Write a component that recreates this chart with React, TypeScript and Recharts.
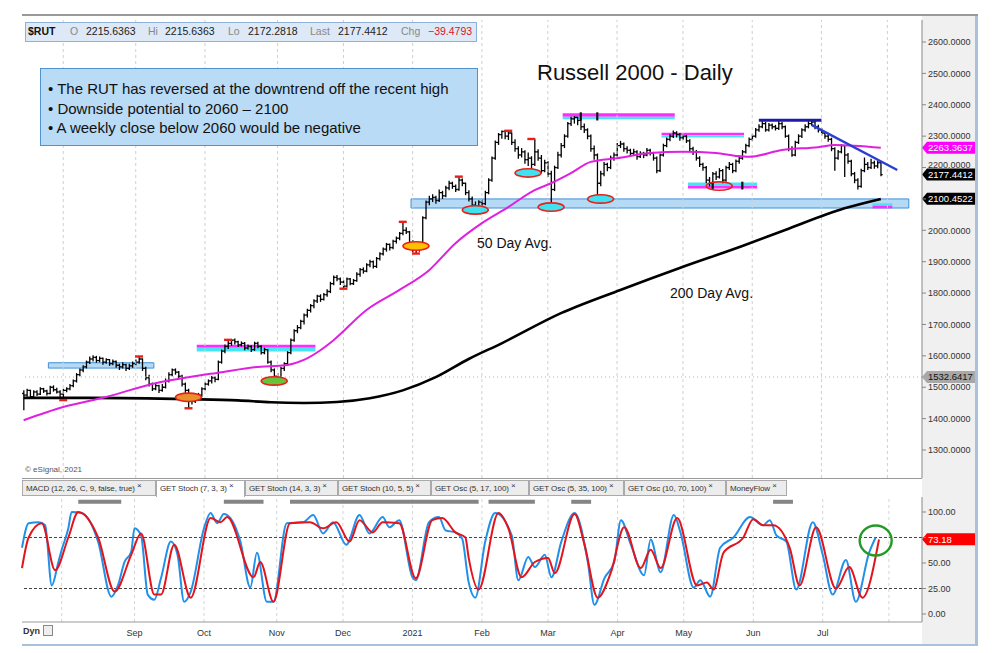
import React from 'react';
import { ComposedChart, Bar, Line, XAxis, YAxis, ReferenceLine, ReferenceArea, ReferenceDot } from 'recharts';

// daily bars [open, high, low, close], mid Jul 2020 -> 27 Jul 2021
const priceBars: number[][] = [
  [1480,1490,1427,1475],[1475,1495,1470,1490],[1490,1492,1465,1470],[1470,1490,1466,1485],[1485,1490,1472,1478],
  [1478,1500,1475,1495],[1495,1498,1482,1488],[1488,1492,1474,1480],[1480,1505,1478,1500],[1500,1506,1486,1492],
  [1492,1498,1480,1485],[1485,1490,1468,1478],[1478,1495,1460,1490],[1490,1500,1484,1495],[1495,1510,1490,1505],
  [1505,1525,1500,1520],[1520,1545,1515,1540],[1540,1560,1535,1555],[1555,1570,1548,1565],[1565,1585,1560,1580],
  [1580,1598,1574,1590],[1590,1602,1582,1595],[1595,1600,1578,1585],[1585,1598,1580,1592],[1592,1595,1572,1580],
  [1580,1592,1575,1588],[1588,1590,1568,1575],[1575,1588,1570,1582],[1582,1585,1562,1570],[1570,1575,1555,1565],
  [1565,1580,1560,1572],[1572,1575,1552,1560],[1560,1575,1555,1568],[1568,1582,1562,1575],[1575,1588,1570,1580],
  [1580,1598,1575,1590],[1590,1592,1552,1560],[1560,1565,1522,1530],[1530,1540,1502,1510],[1510,1515,1488,1495],
  [1495,1512,1490,1505],[1505,1508,1482,1490],[1490,1510,1486,1500],[1500,1528,1496,1520],[1520,1548,1515,1540],
  [1540,1560,1535,1555],[1555,1560,1540,1548],[1548,1552,1528,1535],[1535,1540,1502,1510],[1510,1515,1482,1490],
  [1490,1495,1433,1470],[1470,1476,1445,1455],[1455,1472,1450,1465],[1465,1482,1460,1475],[1475,1500,1470,1495],
  [1495,1515,1490,1510],[1510,1525,1505,1520],[1520,1536,1512,1530],[1530,1534,1516,1525],[1525,1585,1522,1580],
  [1580,1620,1575,1615],[1615,1636,1608,1630],[1630,1650,1622,1640],[1640,1652,1632,1650],[1650,1655,1636,1645],
  [1645,1648,1628,1635],[1635,1646,1630,1640],[1640,1644,1618,1625],[1625,1636,1620,1630],[1630,1634,1612,1620],
  [1620,1645,1616,1640],[1640,1645,1624,1630],[1630,1634,1604,1610],[1610,1626,1605,1620],[1620,1622,1575,1580],
  [1580,1585,1548,1555],[1555,1560,1525,1535],[1535,1545,1520,1530],[1530,1565,1528,1560],[1560,1580,1552,1575],
  [1575,1615,1570,1610],[1610,1655,1605,1650],[1650,1685,1645,1680],[1680,1698,1672,1690],[1690,1715,1685,1710],
  [1710,1735,1700,1730],[1730,1750,1722,1745],[1745,1765,1738,1760],[1760,1780,1752,1775],[1775,1795,1768,1790],
  [1790,1796,1772,1780],[1780,1800,1776,1795],[1795,1812,1788,1805],[1805,1836,1800,1830],[1830,1856,1825,1850],
  [1850,1858,1838,1845],[1845,1850,1826,1835],[1835,1840,1815,1822],[1822,1850,1818,1845],[1845,1848,1825,1830],
  [1830,1845,1826,1840],[1840,1866,1836,1860],[1860,1880,1852,1875],[1875,1882,1862,1870],[1870,1895,1866,1890],
  [1890,1906,1882,1900],[1900,1904,1878,1885],[1885,1915,1880,1910],[1910,1930,1904,1925],[1925,1945,1920,1940],
  [1940,1960,1932,1955],[1955,1958,1936,1945],[1945,1970,1940,1965],[1965,1980,1958,1975],[1975,1995,1968,1990],
  [1990,2026,1984,2000],[2000,2010,1988,1995],[1995,1998,1955,1960],[1960,1968,1930,1940],[1940,1960,1927,1950],
  [1950,1958,1932,1945],[1945,2045,1942,2040],[2040,2095,2035,2090],[2090,2110,2080,2100],[2100,2115,2090,2105],
  [2105,2110,2085,2095],[2095,2130,2090,2120],[2120,2126,2100,2110],[2110,2142,2105,2135],[2135,2158,2128,2150],
  [2150,2155,2132,2140],[2140,2146,2122,2130],[2130,2170,2126,2160],[2160,2165,2140,2150],[2150,2152,2112,2120],
  [2120,2128,2092,2100],[2100,2108,2072,2080],[2080,2092,2062,2070],[2070,2096,2066,2090],[2090,2098,2076,2085],
  [2085,2126,2080,2120],[2120,2166,2115,2160],[2160,2235,2155,2230],[2230,2286,2225,2280],[2280,2310,2272,2305],
  [2305,2318,2292,2315],[2315,2320,2290,2300],[2300,2316,2288,2310],[2310,2312,2272,2280],[2280,2290,2250,2260],
  [2260,2268,2228,2240],[2240,2262,2232,2250],[2250,2255,2212,2225],[2225,2248,2205,2230],[2230,2236,2182,2210],
  [2210,2290,2205,2250],[2250,2258,2222,2230],[2230,2240,2182,2190],[2190,2225,2185,2215],[2215,2220,2170,2180],
  [2180,2190,2074,2130],[2130,2206,2125,2200],[2200,2250,2195,2240],[2240,2278,2232,2270],[2270,2306,2262,2300],
  [2300,2345,2295,2340],[2340,2362,2332,2355],[2355,2364,2340,2360],[2360,2362,2335,2350],[2350,2355,2320,2330],
  [2330,2340,2310,2320],[2320,2325,2290,2300],[2300,2305,2250,2260],[2260,2270,2225,2240],[2240,2245,2103,2150],
  [2150,2190,2140,2180],[2180,2218,2172,2210],[2210,2215,2188,2200],[2200,2238,2195,2230],[2230,2248,2222,2240],
  [2240,2278,2235,2270],[2270,2285,2262,2275],[2275,2280,2250,2260],[2260,2268,2245,2255],[2255,2260,2236,2245],
  [2245,2260,2240,2250],[2250,2255,2225,2235],[2235,2252,2230,2245],[2245,2250,2230,2240],[2240,2262,2236,2255],
  [2255,2260,2238,2245],[2245,2250,2222,2230],[2230,2235,2182,2190],[2190,2245,2186,2240],[2240,2276,2235,2270],
  [2270,2296,2265,2290],[2290,2306,2284,2300],[2300,2318,2294,2310],[2310,2316,2296,2305],[2305,2310,2285,2295],
  [2295,2306,2288,2300],[2300,2304,2278,2285],[2285,2290,2252,2260],[2260,2266,2240,2250],[2250,2256,2222,2230],
  [2230,2236,2202,2210],[2210,2215,2190,2200],[2200,2205,2150,2160],[2160,2170,2140,2150],[2150,2186,2145,2180],
  [2180,2188,2160,2170],[2170,2198,2165,2190],[2190,2195,2150,2160],[2160,2206,2155,2200],[2200,2218,2192,2210],
  [2210,2215,2182,2190],[2190,2226,2185,2220],[2220,2236,2212,2230],[2230,2256,2225,2250],[2250,2276,2245,2270],
  [2270,2296,2265,2290],[2290,2306,2284,2300],[2300,2326,2295,2320],[2320,2338,2314,2330],[2330,2350,2325,2340],
  [2340,2346,2314,2320],[2320,2342,2315,2335],[2335,2340,2322,2330],[2330,2336,2318,2325],[2325,2348,2320,2340],
  [2340,2345,2322,2330],[2330,2334,2295,2300],[2300,2305,2252,2260],[2260,2268,2234,2240],[2240,2285,2236,2280],
  [2280,2306,2275,2300],[2300,2325,2294,2320],[2320,2338,2314,2330],[2330,2350,2325,2340],[2340,2352,2332,2345],
  [2345,2348,2322,2330],[2330,2336,2312,2320],[2320,2326,2302,2310],[2310,2315,2292,2300],[2300,2306,2282,2290],
  [2290,2295,2252,2260],[2260,2265,2190,2230],[2230,2256,2225,2250],[2250,2275,2245,2270],[2270,2272,2170,2240],
  [2240,2246,2212,2220],[2220,2225,2172,2180],[2180,2186,2150,2160],[2160,2166,2130,2140],[2140,2196,2136,2190],
  [2190,2232,2185,2210],[2210,2218,2192,2200],[2200,2228,2195,2215],[2215,2222,2196,2205],[2205,2222,2198,2215],
  [2215.64,2215.64,2172.28,2177.44],
];

// [bar index, value]
const ma50Points: [number, number][] = [
  [0,1395],[12,1437],[25,1469],[40,1513],[50,1532],[60,1548],[70,1564],[80,1571],[85,1587],[90,1618],
  [94,1650],[104,1746],[114,1810],[123,1873],[131,1959],[139,2023],[147,2074],[155,2128],[160,2150],
  [166,2182],[172,2218],[180,2230],[190,2246],[200,2250],[210,2246],[216,2237],[220,2234],[230,2256],
  [241,2265],[246,2272],[260,2263],
];
const ma200Points: [number, number][] = [
  [0,1466],[20,1466],[50,1462],[65,1458],[75,1452],[85,1450],[95,1453],[105,1465],[115,1490],[125,1532],
  [135,1590],[145,1640],[163,1736],[181,1810],[199,1880],[218,1950],[231,2001],[249,2070],[260,2100],
];

const stochK: [number, number][] = [
  [0,65],[2,89],[5,90],[7,87],[9,28],[11,51],[12,63],[14,84],[15,100],[18,99],[23,71],[27,17],[29,28],
  [31,51],[33,61],[34,84],[36,77],[38,19],[40,14],[42,35],[45,71],[47,58],[49,12],[51,22],[55,84],[57,99],
  [59,89],[61,98],[62,97],[66,71],[69,26],[71,60],[74,12],[76,12],[80,89],[85,90],[88,97],[91,79],[94,90],
  [98,68],[102,97],[105,79],[109,95],[111,85],[114,92],[118,36],[119,33],[123,90],[126,95],[128,82],[131,80],
  [133,74],[135,31],[137,16],[140,71],[143,99],[148,77],[150,33],[153,56],[155,46],[158,58],[160,36],[163,71],
  [167,99],[171,51],[173,9],[176,35],[179,51],[181,92],[184,68],[188,38],[190,73],[193,41],[197,97],[199,80],
  [203,26],[205,33],[208,17],[211,65],[215,75],[220,95],[224,87],[226,92],[228,77],[231,71],[234,24],[239,90],
  [242,58],[245,19],[249,53],[252,12],[256,60],[258,75],
];
const stochD: [number, number][] = [
  [0,45],[2,75],[6,89],[10,43],[14,75],[17,100],[23,75],[28,22],[33,58],[36,79],[40,19],[42,19],[46,68],
  [51,16],[57,94],[60,90],[62,95],[70,36],[72,51],[76,12],[81,89],[87,90],[91,84],[95,90],[99,71],[102,92],
  [106,80],[109,90],[114,89],[119,35],[124,92],[127,94],[131,80],[134,75],[135,55],[138,24],[144,99],[147,84],
  [151,36],[155,51],[159,55],[161,40],[167,98],[170,68],[174,16],[178,41],[182,85],[187,45],[190,63],[193,45],
  [198,94],[204,28],[207,31],[209,24],[212,60],[218,75],[221,93],[224,87],[227,87],[232,65],[235,28],[240,85],
  [246,25],[250,46],[254,16],[259,73],
];

const monthTicks = [12, 34, 55, 77, 97, 118, 139, 159, 180, 200, 221, 242, 262];
const monthLabels = ['', 'Sep', 'Oct', 'Nov', 'Dec', '2021', 'Feb', 'Mar', 'Apr', 'May', 'Jun', 'Jul', ''];
const priceTicks = [1300, 1400, 1500, 1600, 1700, 1800, 1900, 2000, 2100, 2200, 2300, 2400, 2500, 2600];
const stochTicks = [0, 25, 50, 75, 100];
const tabNames = ['MACD (12, 26, C, 9, false, true)', 'GET Stoch (7, 3, 3)', 'GET Stoch (14, 3, 3)', 'GET Stoch (10, 5, 5)',
  'GET Osc (5, 17, 100)', 'GET Osc (5, 35, 100)', 'GET Osc (10, 70, 100)', 'MoneyFlow'];
const tabWidths = [134, 89, 93, 93, 98, 95, 102, 61];

// last-value tags on the axes
const lastPrice = 2177.4412;
const ma50Last = 2263.3637;
const ma200Last = 2100.4522;
const refPrice = 1532.6417;
const stochLast = 73.18;

// drawn annotations, in bar index / price units
const blueBands = [{ x1: 8, x2: 39, y1: 1561, y2: 1578 }, { x1: 118, x2: 268, y1: 2071, y2: 2100 }];
const magentaCyanBands = [
  { x1: 53, x2: 88, top: [1626, 1635], bottom: [1614, 1626], magentaOnTop: true },
  { x1: 164, x2: 197, top: [2362, 2373], bottom: [2354, 2362], magentaOnTop: true },
  { x1: 194, x2: 218, top: [2303, 2311], bottom: [2296, 2303], magentaOnTop: true },
  { x1: 202, x2: 222, top: [2141, 2152], bottom: [2133, 2141], magentaOnTop: false },
  { x1: 258, x2: 263, top: [2078, 2086], bottom: [2070, 2078], magentaOnTop: false },
];
const ellipses = [
  { x: 50, y: 1468, fill: '#e8902a' }, { x: 76, y: 1520, fill: '#66c43a' }, { x: 119, y: 1950, fill: '#ffc000' },
  { x: 137, y: 2065, fill: '#3fe2f0' }, { x: 153, y: 2183, fill: '#3fe2f0' }, { x: 160, y: 2074, fill: '#3fe2f0' },
  { x: 175, y: 2100, fill: '#3fe2f0' }, { x: 211, y: 2141, fill: 'none' },
];
const pivotMarks = [
  { x: 12, y: 1459 }, { x: 35, y: 1598 }, { x: 50, y: 1433 }, { x: 62, y: 1651 }, { x: 97, y: 1814 },
  { x: 115, y: 2027 }, { x: 119, y: 1926 }, { x: 132, y: 2171 }, { x: 147, y: 2317 }, { x: 154, y: 2291 },
];
const bandTicks = [{ x: 169, y1: 2350, y2: 2376 }, { x: 174, y1: 2350, y2: 2376 }, { x: 209, y1: 2130, y2: 2155 }, { x: 218, y1: 2130, y2: 2155 }];
const strongZones = [[17, 30], [61, 73], [81, 138], [141, 155], [166, 172], [227, 233]];

const SLOTS = 273;
const ma50Map = new Map(ma50Points);
const ma200Map = new Map(ma200Points);
const kMap = new Map(stochK);
const dMap = new Map(stochD);

const priceRows = Array.from({ length: SLOTS }, (_, i) => {
  const b = priceBars[i];
  return {
    i,
    o: b ? b[0] : null, h: b ? b[1] : null, l: b ? b[2] : null, c: b ? b[3] : null,
    hl: b ? [b[2], b[1]] : null,
    ma50: ma50Map.has(i) ? ma50Map.get(i) : null,
    ma200: ma200Map.has(i) ? ma200Map.get(i) : null,
  };
});
const stochRows = Array.from({ length: SLOTS }, (_, i) => ({
  i,
  k: kMap.has(i) ? kMap.get(i) : null,
  d: dMap.has(i) ? dMap.get(i) : null,
}));

function OhlcBar(props: any) {
  const { x, y, width, height, payload } = props;
  if (!payload || payload.h == null) return null;
  const cx = x + width / 2;
  const top = Math.min(y, y + height);
  const bottom = Math.max(y, y + height);
  const span = payload.h - payload.l || 1;
  const toY = (v: number) => top + ((payload.h - v) / span) * (bottom - top);
  return (
    <g stroke="#000" strokeWidth={1.3}>
      <line x1={cx} x2={cx} y1={top} y2={bottom} />
      <line x1={cx - 1.7} x2={cx} y1={toY(payload.o)} y2={toY(payload.o)} />
      <line x1={cx} x2={cx + 1.7} y1={toY(payload.c)} y2={toY(payload.c)} />
    </g>
  );
}

function AxisTag(props: any) {
  const { viewBox, text, bg, color } = props;
  if (!viewBox) return null;
  const x = viewBox.x + viewBox.width;
  const y = viewBox.y;
  return (
    <g>
      <polygon points={`${x},${y} ${x + 5},${y - 6} ${x + 53},${y - 6} ${x + 53},${y + 6} ${x + 5},${y + 6}`} fill={bg} />
      <text x={x + 6} y={y + 3.5} fontSize={9.5} fill={color} fontFamily="Arial, sans-serif">{text}</text>
    </g>
  );
}

// axis labels; the ones sitting under a last-value tag are hidden like in eSignal,
// the one just above a tag is nudged up a little
function makeTick(digits: number, hidden: number[], nudged: number[]) {
  return function Tick(props: any) {
    const { x, y, payload } = props;
    const v = payload.value as number;
    if (hidden.includes(v)) return null;
    const dy = nudged.includes(v) ? -3 : 0;
    return (
      <text x={x} y={y + dy} dy={3.2} fontSize={9} fill="#333" fontFamily="Arial, sans-serif" textAnchor="start">
        {v.toFixed(digits)}
      </text>
    );
  };
}
const PriceTick = makeTick(4, [2100], [2200]);
const StochTick = makeTick(2, [75], []);

const tickStyle = { fontSize: 9, fill: '#333', fontFamily: 'Arial, sans-serif' };

export default function App() {
  return (
    <div style={{ position: 'absolute', left: 0, top: 0, width: 999, height: 653, background: '#fff', fontFamily: 'Arial, sans-serif', overflow: 'hidden' }}>
      {/* frame */}
      <div style={{ position: 'absolute', left: 922, top: 16, width: 53, height: 629, background: '#f0f0f0' }} />
      <div style={{ position: 'absolute', left: 22, top: 14, width: 956, height: 2, background: '#9a9a9a' }} />
      <div style={{ position: 'absolute', left: 975, top: 16, width: 3, height: 630, background: '#a8c2dc' }} />
      <div style={{ position: 'absolute', left: 22, top: 644, width: 956, height: 2, background: '#a8c2dc' }} />
      <div style={{ position: 'absolute', left: 22, top: 478, width: 900, height: 1, background: '#999' }} />

      <div style={{ position: 'absolute', left: 0, top: 20 }}>
        <ComposedChart width={999} height={458} data={priceRows} margin={{ top: 0, right: 22, bottom: 0, left: 22 }}>
          <XAxis dataKey="i" hide />
          <YAxis orientation="right" width={55} domain={[1210.8, 2670.1]} ticks={priceTicks} allowDataOverflow
            tick={<PriceTick />} tickSize={4} tickMargin={2}
            axisLine={{ stroke: '#888' }} tickLine={{ stroke: '#888' }} />
          {monthTicks.map((m) => (
            <ReferenceLine key={`g${m}`} x={m} stroke="#cfcfcf" strokeDasharray="3 3" />
          ))}
          <ReferenceLine y={refPrice} stroke="#b0b0b0" strokeDasharray="1 3" />
          {blueBands.map((b, n) => (
            <ReferenceArea key={`bb${n}`} x1={b.x1} x2={b.x2} y1={b.y1} y2={b.y2} fill="#b5daf6" fillOpacity={1} stroke="#3f8fd4" strokeWidth={1} />
          ))}
          {magentaCyanBands.map((b, n) => (
            <ReferenceArea key={`mt${n}`} x1={b.x1} x2={b.x2} y1={b.top[0]} y2={b.top[1]} fill={b.magentaOnTop ? '#ff2cff' : '#48e4f4'} fillOpacity={1} stroke="none" />
          ))}
          {magentaCyanBands.map((b, n) => (
            <ReferenceArea key={`mb${n}`} x1={b.x1} x2={b.x2} y1={b.bottom[0]} y2={b.bottom[1]} fill={b.magentaOnTop ? '#48e4f4' : '#ff2cff'} fillOpacity={1} stroke="none" />
          ))}
          {ellipses.map((e, n) => (
            <ReferenceDot key={`el${n}`} x={e.x} y={e.y} r={4}
              shape={(p: any) => <ellipse cx={p.cx} cy={p.cy} rx={13} ry={4.2} fill={e.fill} stroke="#e8201c" strokeWidth={1.6} />} />
          ))}
          <Bar dataKey="hl" isAnimationActive={false} shape={<OhlcBar />} />
          <Line dataKey="ma200" type="monotone" stroke="#000" strokeWidth={2.6} dot={false} connectNulls isAnimationActive={false} />
          <Line dataKey="ma50" type="monotone" stroke="#e020e0" strokeWidth={2} dot={false} connectNulls isAnimationActive={false} />
          {bandTicks.map((t, n) => (
            <ReferenceLine key={`bt${n}`} segment={[{ x: t.x, y: t.y1 }, { x: t.x, y: t.y2 }]} stroke="#111" strokeWidth={2.2} />
          ))}
          {pivotMarks.map((p, n) => (
            <ReferenceDot key={`pv${n}`} x={p.x} y={p.y} r={3}
              shape={(q: any) => <rect x={q.cx - 4} y={q.cy - 1.2} width={8} height={2.4} fill="#e8201c" />} />
          ))}
          <ReferenceLine segment={[{ x: 223, y: 2351 }, { x: 242, y: 2351 }]} stroke="#1c1caa" strokeWidth={3} />
          <ReferenceLine segment={[{ x: 239, y: 2336 }, { x: 265, y: 2192 }]} stroke="#2a3fd4" strokeWidth={2.4} />
          <ReferenceLine y={refPrice} stroke="none" label={<AxisTag text={refPrice.toFixed(4)} bg="#a8a8a8" color="#111" />} />
          <ReferenceLine y={ma200Last} stroke="none" label={<AxisTag text={ma200Last.toFixed(4)} bg="#000" color="#fff" />} />
          <ReferenceLine y={lastPrice} stroke="none" label={<AxisTag text={lastPrice.toFixed(4)} bg="#000" color="#fff" />} />
          <ReferenceLine y={ma50Last} stroke="none" label={<AxisTag text={ma50Last.toFixed(4)} bg="#ff00ff" color="#fff" />} />
        </ComposedChart>
      </div>

      <div style={{ position: 'absolute', left: 0, top: 497 }}>
        <ComposedChart width={999} height={145} data={stochRows} margin={{ top: 0, right: 22, bottom: 0, left: 22 }}>
          <XAxis dataKey="i" height={20} ticks={monthTicks.slice(1, 12)} interval={0}
            tickFormatter={(v: number) => monthLabels[monthTicks.indexOf(v)]} tick={tickStyle} tickLine={false}
            axisLine={{ stroke: '#999' }} />
          <YAxis orientation="right" width={55} domain={[-7.84, 114.7]} ticks={stochTicks} allowDataOverflow
            tick={<StochTick />} tickSize={4} tickMargin={2}
            axisLine={{ stroke: '#888' }} tickLine={{ stroke: '#888' }} />
          {monthTicks.map((m) => (
            <ReferenceLine key={`sg${m}`} x={m} stroke="#d4d4d4" strokeDasharray="3 3" />
          ))}
          <ReferenceLine y={75} stroke="#444" strokeDasharray="3 2" />
          <ReferenceLine y={25} stroke="#444" strokeDasharray="3 2" />
          {strongZones.map((z, n) => (
            <ReferenceLine key={`sz${n}`} segment={[{ x: z[0], y: 110 }, { x: z[1], y: 110 }]} stroke="#858585" strokeWidth={4} />
          ))}
          <Line dataKey="k" type="monotone" stroke="#2090e8" strokeWidth={2} dot={false} connectNulls isAnimationActive={false} />
          <Line dataKey="d" type="monotone" stroke="#e3141c" strokeWidth={2} dot={false} connectNulls isAnimationActive={false} />
          <ReferenceDot x={258} y={72} r={15}
            shape={(p: any) => <ellipse cx={p.cx} cy={p.cy} rx={16} ry={15} fill="none" stroke="#239a28" strokeWidth={2.4} />} />
          <ReferenceLine y={stochLast} stroke="none" label={<AxisTag text={stochLast.toFixed(2)} bg="#ff0000" color="#fff" />} />
        </ComposedChart>
      </div>

      {/* quote header */}
      <div style={{ position: 'absolute', left: 25, top: 22, width: 450, height: 18, background: '#dde9f6', border: '1px solid #8fb0d8', fontSize: 10.5 }}>
        {[
          { t: '$RUT', x: 2, c: '#111', b: true }, { t: 'O', x: 44, c: '#888' }, { t: '2215.6363', x: 60, c: '#222' },
          { t: 'Hi', x: 122, c: '#888' }, { t: '2215.6363', x: 139, c: '#222' }, { t: 'Lo', x: 202, c: '#888' },
          { t: '2172.2818', x: 222, c: '#222' }, { t: 'Last', x: 284, c: '#888' }, { t: '2177.4412', x: 312, c: '#222' },
          { t: 'Chg', x: 375, c: '#888' }, { t: '\u221239.4793', x: 402, c: '#e0102a' },
        ].map((s, n) => (
          <span key={n} style={{ position: 'absolute', left: s.x, top: 2, color: s.c, fontWeight: s.b ? 'bold' : 'normal', whiteSpace: 'nowrap' }}>{s.t}</span>
        ))}
      </div>

      {/* commentary */}
      <div style={{ position: 'absolute', left: 40, top: 68, width: 438, height: 78, background: '#b9dbf6', border: '1px solid #4f93cf', fontSize: 15, color: '#111', lineHeight: '19.5px', padding: '10px 0 0 7px', boxSizing: 'border-box', whiteSpace: 'nowrap' }}>
        <div>• The RUT has reversed at the downtrend off the recent high</div>
        <div>• Downside potential to 2060 – 2100</div>
        <div>• A weekly close below 2060 would be negative</div>
      </div>
      <div style={{ position: 'absolute', left: 537, top: 60, fontSize: 22, color: '#111', whiteSpace: 'nowrap' }}>Russell 2000 - Daily</div>
      <div style={{ position: 'absolute', left: 477, top: 235, fontSize: 14, color: '#111', whiteSpace: 'nowrap' }}>50 Day Avg.</div>
      <div style={{ position: 'absolute', left: 670, top: 285, fontSize: 14, color: '#111', whiteSpace: 'nowrap' }}>200 Day Avg.</div>
      <div style={{ position: 'absolute', left: 25, top: 465, fontSize: 8, color: '#555', whiteSpace: 'nowrap' }}>© eSignal, 2021</div>

      {/* study tabs */}
      <div style={{ position: 'absolute', left: 22, top: 480, height: 17, display: 'flex' }}>
        {tabNames.map((t, n) => (
          <div key={t} style={{ width: tabWidths[n], height: n === 1 ? 17 : 16, boxSizing: 'border-box', border: '1px solid #aaa', borderBottom: n === 1 ? 'none' : '1px solid #aaa', background: n === 1 ? '#fff' : '#ececec', fontSize: 8, color: '#333', whiteSpace: 'nowrap', overflow: 'hidden', padding: '3px 0 0 3px', letterSpacing: -0.1 }}>
            {t} <span style={{ fontSize: 8, verticalAlign: 'top', position: 'relative', top: -3 }}>×</span>
          </div>
        ))}
      </div>

      <div style={{ position: 'absolute', left: 23, top: 626, fontSize: 9, fontWeight: 'bold', color: '#333' }}>Dyn</div>
      <div style={{ position: 'absolute', left: 43, top: 625, width: 10, height: 11, border: '1px solid #888', background: '#eee', boxSizing: 'border-box' }} />
    </div>
  );
}
